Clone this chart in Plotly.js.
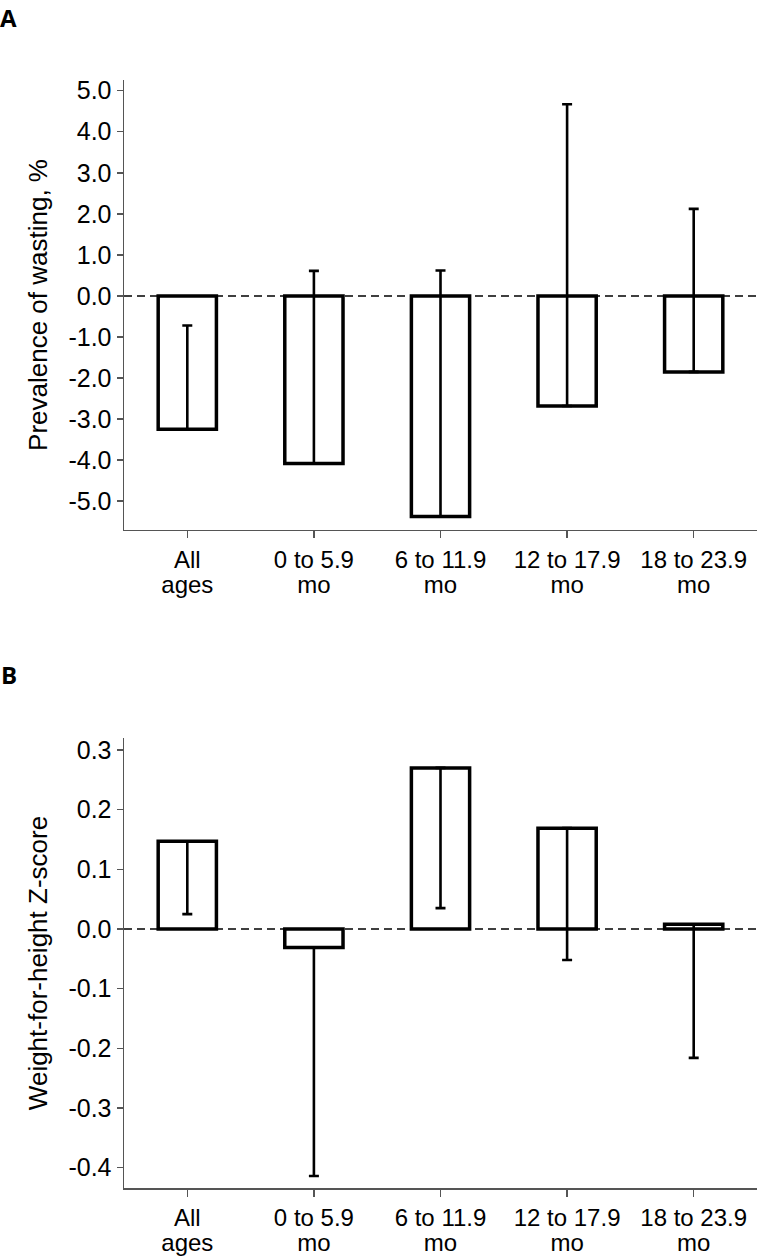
<!DOCTYPE html>
<html>
<head>
<meta charset="utf-8">
<script src="https://cdn.plot.ly/plotly-3.0.1.min.js"></script>
<style>
  body { margin: 0; background: white; }
  #chart { width: 760px; height: 1258px; }
</style>
</head>
<body>
<div id="chart"></div>
<script>
// Age groups, split into the two lines of each tick label
let ageLine1 = ["All", "0 to 5.9", "6 to 11.9", "12 to 17.9", "18 to 23.9"];
let ageLine2 = ["ages", "mo", "mo", "mo", "mo"];
let agePos = [0, 1, 2, 3, 4];

// Panel A: difference in prevalence of wasting, % (bar) and upper CI limit
let wastingDiff = [-3.25, -4.08, -5.37, -2.68, -1.85];
let wastingUpper = [-0.72, 0.61, 0.62, 4.67, 2.12];

// Panel B: difference in weight-for-height Z-score (bar) and lower CI limit
let whzDiff = [0.147, -0.031, 0.27, 0.169, 0.008];
let whzLower = [0.025, -0.414, 0.035, -0.052, -0.216];

// Tick labels
let wastingTicks = [5, 4, 3, 2, 1, 0, -1, -2, -3, -4, -5];
let wastingTickText = ["5.0", "4.0", "3.0", "2.0", "1.0", "0.0", "-1.0", "-2.0", "-3.0", "-4.0", "-5.0"];
let whzTicks = [0.3, 0.2, 0.1, 0, -0.1, -0.2, -0.3, -0.4];
let whzTickText = ["0.3", "0.2", "0.1", "0.0", "-0.1", "-0.2", "-0.3", "-0.4"];

let fontFamily = "Liberation Sans, Arial, sans-serif";
let xTickSize = 24;
let yTickSize = 25;

// one-sided error bars: A goes up to the upper limit, B goes down to the lower limit
let wastingPlus = wastingDiff.map((v, i) => wastingUpper[i] - v);
let whzMinus = whzDiff.map((v, i) => v - whzLower[i]);

let barStyle = {
  color: "white",
  line: { color: "black", width: 3.5 }
};

let traceA = {
  x: ageLine1,
  y: wastingDiff,
  type: "bar",
  width: 0.46,
  marker: barStyle,
  xaxis: "x",
  yaxis: "y",
  error_y: {
    type: "data",
    symmetric: false,
    array: wastingPlus,
    arrayminus: wastingDiff.map(() => 0),
    color: "black",
    thickness: 2.6,
    width: 5
  },
  hoverinfo: "skip"
};

let traceB = {
  x: ageLine1,
  y: whzDiff,
  type: "bar",
  width: 0.46,
  marker: barStyle,
  xaxis: "x2",
  yaxis: "y2",
  error_y: {
    type: "data",
    symmetric: false,
    array: whzDiff.map(() => 0),
    arrayminus: whzMinus,
    color: "black",
    thickness: 2.6,
    width: 5
  },
  hoverinfo: "skip"
};

// invisible traces so the overlaid second-line axes get drawn
let line2A = {
  x: agePos, y: wastingDiff, type: "scatter", mode: "markers",
  marker: { opacity: 0, size: 1 }, xaxis: "x3", yaxis: "y", hoverinfo: "skip"
};
let line2B = {
  x: agePos, y: whzDiff, type: "scatter", mode: "markers",
  marker: { opacity: 0, size: 1 }, xaxis: "x4", yaxis: "y2", hoverinfo: "skip"
};

let xAxisStyle = {
  type: "category",
  range: [-0.5, 4.5],
  showline: true,
  linecolor: "#555",
  linewidth: 1.5,
  ticks: "outside",
  ticklen: 7,
  tickwidth: 1.5,
  tickcolor: "#555",
  ticklabelstandoff: 1,
  showgrid: false,
  zeroline: false,
  tickfont: { size: xTickSize, color: "black", family: fontFamily }
};

// second line of the category labels, on an overlaid axis
let xLine2Style = {
  type: "linear",
  range: [-0.5, 4.5],
  tickmode: "array",
  tickvals: agePos,
  ticktext: ageLine2,
  showline: false,
  ticks: "outside",
  ticklen: 7,
  tickcolor: "rgba(0,0,0,0)",
  ticklabelstandoff: 26,
  showgrid: false,
  zeroline: false,
  tickfont: { size: xTickSize, color: "black", family: fontFamily }
};

let yAxisStyle = {
  showline: true,
  linecolor: "#555",
  linewidth: 1.5,
  ticks: "outside",
  ticklen: 6,
  tickwidth: 1.5,
  tickcolor: "#555",
  showgrid: false,
  zeroline: false,
  tickmode: "array",
  tickfont: { size: yTickSize, color: "black", family: fontFamily }
};

let titleFont = { size: 26, color: "black", family: fontFamily };

let layout = {
  width: 760,
  height: 1258,
  margin: { l: 124, r: 3, t: 80, b: 70 },
  showlegend: false,
  plot_bgcolor: "white",
  paper_bgcolor: "white",
  xaxis: Object.assign({}, xAxisStyle, { anchor: "y" }),
  xaxis2: Object.assign({}, xAxisStyle, { anchor: "y2" }),
  xaxis3: Object.assign({}, xLine2Style, { anchor: "y", overlaying: "x" }),
  xaxis4: Object.assign({}, xLine2Style, { anchor: "y2", overlaying: "x2" }),
  yaxis: Object.assign({}, yAxisStyle, {
    domain: [0.5939, 1],
    range: [-5.7, 5.26],
    tickvals: wastingTicks,
    ticktext: wastingTickText,
    anchor: "x",
    title: { text: "Prevalence of wasting, %", standoff: 13, font: titleFont }
  }),
  yaxis2: Object.assign({}, yAxisStyle, {
    domain: [0, 0.4061],
    range: [-0.434, 0.32],
    tickvals: whzTicks,
    ticktext: whzTickText,
    anchor: "x2",
    title: { text: "Weight-for-height Z-score", standoff: 13, font: titleFont }
  }),
  shapes: [
    { type: "line", layer: "above", xref: "x domain", yref: "y", x0: 0, x1: 1, y0: 0, y1: 0,
      line: { color: "black", width: 1.5, dash: "8px,5px" } },
    { type: "line", layer: "above", xref: "x2 domain", yref: "y2", x0: 0, x1: 1, y0: 0, y1: 0,
      line: { color: "black", width: 1.5, dash: "8px,5px" } }
  ],
  annotations: [
    { text: "<b>A</b>", xref: "paper", yref: "paper", x: -0.1817, y: 1.0564, xanchor: "center", yanchor: "middle",
      showarrow: false, font: { size: 24, color: "black", family: "Open Sans, sans-serif" } },
    { text: "<b>B</b>", xref: "paper", yref: "paper", x: -0.1817, y: 0.4634, xanchor: "center", yanchor: "middle",
      showarrow: false, font: { size: 24, color: "black", family: "Open Sans, sans-serif" } }
  ]
};

Plotly.newPlot("chart", [traceA, traceB, line2A, line2B], layout, { staticPlot: true });
</script>
</body>
</html>
